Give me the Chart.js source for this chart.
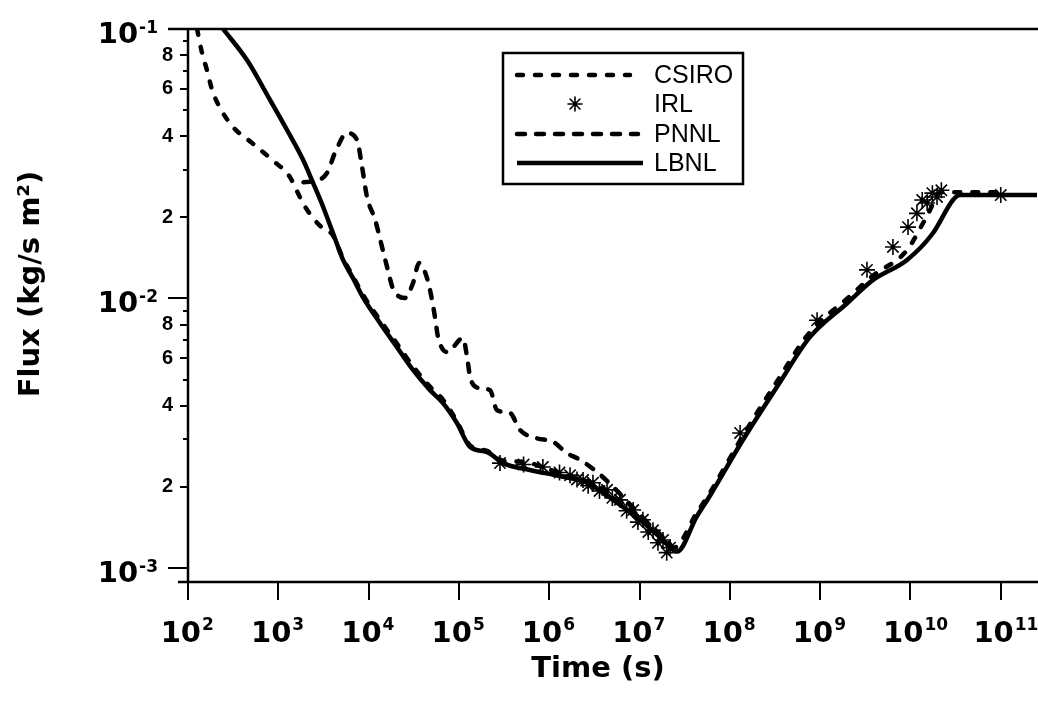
<!DOCTYPE html>
<html>
<head>
<meta charset="utf-8">
<title>Flux vs time</title>
<script src="https://cdn.jsdelivr.net/npm/chart.js@4.4.1/dist/chart.umd.min.js"></script>
<style>
  html, body { margin: 0; padding: 0; background: #fff; }
</style>
</head>
<body>
<canvas id="flux-chart" width="1038" height="702"></canvas>
<script>
// values (time in s, flux in kg/s m2)
const lbnlTime = [245, 450, 809, 1250, 1880, 2420, 3130, 4030, 5210, 6720, 8670, 13400, 20600, 31000, 47900, 66700, 95000, 133000, 205000, 308000, 610000, 1.42e6, 2.6e6, 5.1e6, 1.01e7, 1.69e7, 2.6e7, 4.3e7, 6.0e7, 1.4e8, 3.33e8, 7.73e8, 1.99e9, 3.86e9, 9.17e9, 1.78e10, 2.96e10, 3.54e10, 2.6e11];
const lbnlFlux = [0.1, 0.0767, 0.0546, 0.0422, 0.0327, 0.0269, 0.0219, 0.0175, 0.0139, 0.0119, 0.0101, 0.0081, 0.0066, 0.00543, 0.00457, 0.00409, 0.00345, 0.00281, 0.00269, 0.00245, 0.00231, 0.00218, 0.00207, 0.00179, 0.00151, 0.0013, 0.00115, 0.00155, 0.00185, 0.00299, 0.0047, 0.0072, 0.0096, 0.01172, 0.0139, 0.0175, 0.0232, 0.0242, 0.0242];

const csiroTime = [126, 143, 162, 185, 226, 315, 511, 851, 1350, 1530, 1980, 3050, 4000, 5200, 6700, 8700, 13400, 20600, 31000, 48000, 67000, 95000, 133000, 205000, 310000, 510000, 1.0e6, 2.0e6, 3.4e6, 5.1e6, 1.0e7, 1.7e7, 2.4e7, 4.3e7, 6.0e7, 1.4e8, 3.3e8, 7.7e8, 2.0e9, 3.9e9, 9.0e9, 1.5e10, 2.2e10, 5.0e10, 1.0e11];
const csiroFlux = [0.1, 0.0815, 0.0705, 0.0594, 0.051, 0.0433, 0.0378, 0.0327, 0.0282, 0.0259, 0.0219, 0.0183, 0.0172, 0.0141, 0.0121, 0.0103, 0.0083, 0.0068, 0.0056, 0.0047, 0.0042, 0.0035, 0.00285, 0.00272, 0.0025, 0.00248, 0.00232, 0.00215, 0.00203, 0.00185, 0.00155, 0.00133, 0.00119, 0.0016, 0.0019, 0.0031, 0.0049, 0.0075, 0.0100, 0.0122, 0.0150, 0.0200, 0.0248, 0.0248, 0.0248];

const pnnlTime = [1900, 2400, 3460, 4240, 5770, 7450, 8460, 9600, 11800, 14100, 16000, 18600, 25300, 31000, 36200, 44400, 50400, 54300, 58700, 74000, 111000, 123000, 133000, 163000, 221000, 264000, 368000, 475000, 733000, 1.1e6, 1.57e6, 2.19e6, 3.38e6, 5.1e6, 1.0e7, 2.2e7];
const pnnlFlux = [0.027, 0.0272, 0.0292, 0.0347, 0.0411, 0.0387, 0.0308, 0.0238, 0.0196, 0.0155, 0.0131, 0.0109, 0.01005, 0.0114, 0.01355, 0.0119, 0.00987, 0.00853, 0.0072, 0.00633, 0.00713, 0.00607, 0.00512, 0.00466, 0.00457, 0.00385, 0.00376, 0.00325, 0.00303, 0.00294, 0.00267, 0.00252, 0.00227, 0.002, 0.00158, 0.00122];

const irlTime = [2.85e5, 5.2e5, 8.5e5, 1.3e6, 1.7e6, 2.03e6, 2.37e6, 2.7e6, 3.05e6, 3.6e6, 4.37e6, 5.0e6, 6.08e6, 7.2e6, 8.5e6, 9.6e6, 1.09e7, 1.25e7, 1.41e7, 1.6e7, 1.82e7, 2.0e7, 2.18e7, 1.3e8, 9.25e8, 3.3e9, 6.4e9, 9.4e9, 1.18e10, 1.35e10, 1.53e10, 1.75e10, 1.97e10, 2.2e10, 1.0e11];
const irlFlux = [0.00245, 0.00242, 0.00237, 0.00226, 0.00221, 0.00213, 0.00212, 0.00202, 0.00207, 0.00193, 0.00195, 0.00182, 0.00179, 0.00163, 0.00164, 0.00148, 0.00151, 0.00136, 0.00138, 0.00124, 0.00127, 0.00114, 0.00119, 0.00317, 0.0083, 0.01277, 0.01553, 0.0184, 0.0207, 0.0232, 0.0226, 0.0246, 0.0238, 0.0252, 0.0242];

const xTickValues = [1e2, 1e3, 1e4, 1e5, 1e6, 1e7, 1e8, 1e9, 1e10, 1e11];
const yDecades = [1e-3, 1e-2, 1e-1];
const yMinorLabelled = [2, 4, 6, 8];

const seriesNames = ['CSIRO', 'IRL', 'PNNL', 'LBNL'];
const xTitle = 'Time (s)';
const yTitle = 'Flux (kg/s m²)';

const BIG = 'bold 29px "DejaVu Sans", sans-serif';
const SUP = 'bold 17px "DejaVu Sans", sans-serif';
const TITLE = 'bold 29px "DejaVu Sans", sans-serif';

function pts(t, f) {
    return t.map((v, i) => ({ x: v, y: f[i] }));
}

// every minor/major tick value on the log y axis
let yTickValues = [];
yDecades.forEach((d, i) => {
    if (i === yDecades.length - 1) { yTickValues.push(d); return; }
    for (let m = 1; m <= 9; m++) yTickValues.push(m * d);
});

function mantissa(v) {
    let e = Math.floor(Math.log10(v) + 1e-9);
    return Math.round(v / Math.pow(10, e));
}

// "10" with a raised exponent
function drawPower(ctx, exp, tenRight, baseY, supBaseY) {
    ctx.font = BIG;
    ctx.textAlign = 'right';
    ctx.textBaseline = 'alphabetic';
    ctx.fillText('10', tenRight, baseY);
    ctx.font = SUP;
    ctx.textAlign = 'left';
    ctx.fillText(String(exp), tenRight + 1, supBaseY);
}

const axisFrame = {
    id: 'axisFrame',
    afterDraw(chart) {
        const { ctx, chartArea: a, scales: { x, y } } = chart;
        ctx.save();
        ctx.strokeStyle = '#000';
        ctx.fillStyle = '#000';
        ctx.lineWidth = 2.5;
        ctx.beginPath();
        ctx.moveTo(a.left - 20, a.top); ctx.lineTo(a.right + 2, a.top);
        ctx.moveTo(a.left, a.top); ctx.lineTo(a.left, a.bottom);
        ctx.moveTo(a.left - 10, a.bottom); ctx.lineTo(a.right + 2, a.bottom);
        ctx.stroke();

        // y ticks
        ctx.lineWidth = 2;
        yTickValues.forEach(v => {
            let py = Math.round(y.getPixelForValue(v));
            let m = mantissa(v);
            let len = m === 1 ? 20 : (yMinorLabelled.includes(m) ? 8 : 5);
            ctx.beginPath();
            ctx.moveTo(a.left - len, py); ctx.lineTo(a.left, py);
            ctx.stroke();
        });
        // x ticks
        xTickValues.forEach(v => {
            let px = Math.round(x.getPixelForValue(v));
            ctx.beginPath();
            ctx.moveTo(px, a.bottom); ctx.lineTo(px, a.bottom + 18);
            ctx.stroke();
        });

        // decade labels
        yDecades.forEach(v => {
            let py = y.getPixelForValue(v);
            let exp = '-' + Math.round(-Math.log10(v));
            ctx.font = SUP;
            let w = ctx.measureText(exp).width;
            drawPower(ctx, exp, a.left - 30 - w - 1, py + 14, py + 4);
        });
        xTickValues.forEach(v => {
            let px = x.getPixelForValue(v);
            drawPower(ctx, Math.round(Math.log10(v)), px + 13, a.bottom + 60, a.bottom + 48);
        });

        // axis titles
        ctx.font = TITLE;
        ctx.textAlign = 'center';
        ctx.textBaseline = 'middle';
        ctx.fillText(xTitle, a.left + 410, a.bottom + 87);
        ctx.translate(31, a.top + 255);
        ctx.rotate(-Math.PI / 2);
        ctx.fillText(yTitle, 0, 0);
        ctx.restore();
    }
};

const boxLegend = {
    id: 'boxLegend',
    afterDraw(chart) {
        const ctx = chart.ctx;
        const box = { left: 503, top: 53, right: 743, bottom: 184 };
        const rowY = [75, 104, 134, 163];
        ctx.save();
        ctx.fillStyle = '#fff';
        ctx.fillRect(box.left, box.top, box.right - box.left, box.bottom - box.top);
        ctx.strokeStyle = '#000';
        ctx.lineWidth = 2.5;
        ctx.strokeRect(box.left, box.top, box.right - box.left, box.bottom - box.top);
        ctx.font = '25px "Liberation Sans", Arial, sans-serif';
        ctx.textBaseline = 'middle';
        seriesNames.forEach((name, i) => {
            const ds = chart.data.datasets.find(d => d.label === name);
            const yy = rowY[i];
            ctx.strokeStyle = '#000';
            if (ds.showLine === false) {
                ctx.lineWidth = ds.borderWidth;
                Chart.helpers.drawPoint(ctx, { pointStyle: ds.pointStyle, radius: 7, borderWidth: ds.borderWidth, rotation: 0 }, 575, yy);
            } else {
                ctx.lineWidth = ds.borderWidth;
                ctx.lineCap = ds.borderCapStyle || 'butt';
                ctx.setLineDash(ds.borderDash || []);
                ctx.beginPath();
                ctx.moveTo(517, yy);
                ctx.lineTo(i === 0 ? 630 : (i === 2 ? 638 : 643), yy);
                ctx.stroke();
                ctx.setLineDash([]);
            }
            ctx.fillStyle = '#000';
            ctx.textAlign = 'left';
            ctx.fillText(name, 654, yy + 1);
        });
        ctx.restore();
    }
};

const ctx = document.getElementById('flux-chart').getContext('2d');
const fluxChart = new Chart(ctx, {
    type: 'line',
    data: {
        datasets: [
            {
                label: 'LBNL',
                data: pts(lbnlTime, lbnlFlux),
                borderColor: '#000',
                borderWidth: 4.5,
                pointRadius: 0,
                cubicInterpolationMode: 'monotone',
                borderJoinStyle: 'round',
                fill: false
            },
            {
                label: 'CSIRO',
                data: pts(csiroTime, csiroFlux),
                borderColor: '#000',
                borderWidth: 4.5,
                borderDash: [6, 12],
                borderCapStyle: 'round',
                pointRadius: 0,
                cubicInterpolationMode: 'monotone',
                fill: false
            },
            {
                label: 'PNNL',
                data: pts(pnnlTime, pnnlFlux),
                borderColor: '#000',
                borderWidth: 4.5,
                borderDash: [8, 11],
                borderCapStyle: 'round',
                pointRadius: 0,
                cubicInterpolationMode: 'monotone',
                fill: false
            },
            {
                label: 'IRL',
                data: pts(irlTime, irlFlux),
                showLine: false,
                pointStyle: 'star',
                pointRadius: 8,
                borderWidth: 1.6,
                borderColor: '#000',
                backgroundColor: '#fff'
            }
        ]
    },
    options: {
        responsive: false,
        animation: false,
        layout: { autoPadding: false, padding: { top: 29, right: 1, left: 0, bottom: 0 } },
        plugins: {
            legend: { display: false },
            tooltip: { enabled: false }
        },
        scales: {
            x: {
                type: 'logarithmic',
                min: 100,
                max: 2.52e11,
                grid: { display: false },
                border: { display: false },
                ticks: { display: false },
                afterBuildTicks: s => { s.ticks = xTickValues.map(v => ({ value: v })); },
                afterFit: s => { s.height = 120; }
            },
            y: {
                type: 'logarithmic',
                min: 8.87e-4,
                max: 0.1,
                grid: { display: false, drawTicks: true, tickLength: 8 },
                border: { display: false },
                ticks: {
                    autoSkip: false,
                    padding: 7,
                    color: '#000',
                    font: { family: '"Liberation Sans", Arial, sans-serif', size: 20, weight: 'bold' },
                    callback: v => {
                        let m = mantissa(v);
                        return yMinorLabelled.includes(m) ? String(m) : '';
                    }
                },
                afterBuildTicks: s => { s.ticks = yTickValues.map(v => ({ value: v })); },
                afterFit: s => { s.width = 188; }
            }
        }
    },
    plugins: [axisFrame, boxLegend]
});
</script>
</body>
</html>
